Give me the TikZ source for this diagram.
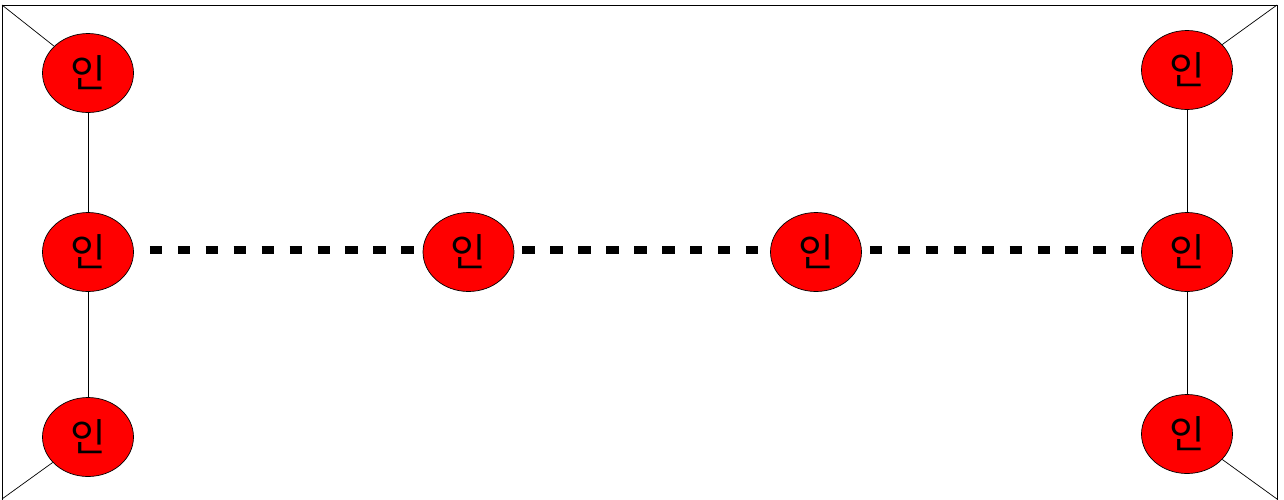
\documentclass[tikz,border=0pt]{standalone}
\usepackage{fontspec}
\newfontfamily\krfont{Noto Sans CJK KR}
\usetikzlibrary{shapes.geometric}

\tikzset{
    person/.style={draw, fill=red, ellipse, inner sep=0pt, minimum width=1.82cm, minimum height=1.58cm, font=\krfont\fontsize{22}{22}\selectfont},
    dotline/.style={line width=4.2pt, dash pattern=on 7.1pt off 8.8pt}
}

\begin{document}
\begin{tikzpicture}
        \useasboundingbox (0, 0) rectangle (25.68, -9.98);
        \draw (0.04, -0.10) rectangle (25.54, -10.04);

        \coordinate (C1) at (0.04, -0.10);
        \coordinate (C2) at (25.54, -0.10);
        \coordinate (C3) at (0.04, -9.98);
        \coordinate (C4) at (25.54, -9.98);

        \node [person] (A1) at (1.76, -1.46) {인};
        \node [person] (B1) at (1.76, -5.04) {인};
        \node [person] (A3) at (1.76, -8.74) {인};
        \node [person] (B2) at (9.37, -5.04) {인};
        \node [person] (B3) at (16.32, -5.04) {인};
        \node [person] (A2) at (23.74, -1.40) {인};
        \node [person] (B4) at (23.74, -5.04) {인};
        \node [person] (A4) at (23.74, -8.68) {인};

        \draw (C1) -- (A1);
        \draw (C2) -- (A2);
        \draw (C3) -- (A3);
        \draw (C4) -- (A4);

        \draw (A1) -- (B1);
        \draw (B1) -- (A3);
        \draw (A2) -- (B4);
        \draw (B4) -- (A4);

        \draw [dotline] ([xshift=0.32cm, yshift=0.04cm]B1.east) -- ([yshift=0.04cm]B2.west);
        \draw [dotline] ([xshift=0.16cm, yshift=0.04cm]B2.east) -- ([yshift=0.04cm]B3.west);
        \draw [dotline] ([xshift=0.16cm, yshift=0.04cm]B3.east) -- ([yshift=0.04cm]B4.west);
    \end{tikzpicture}
\end{document}
